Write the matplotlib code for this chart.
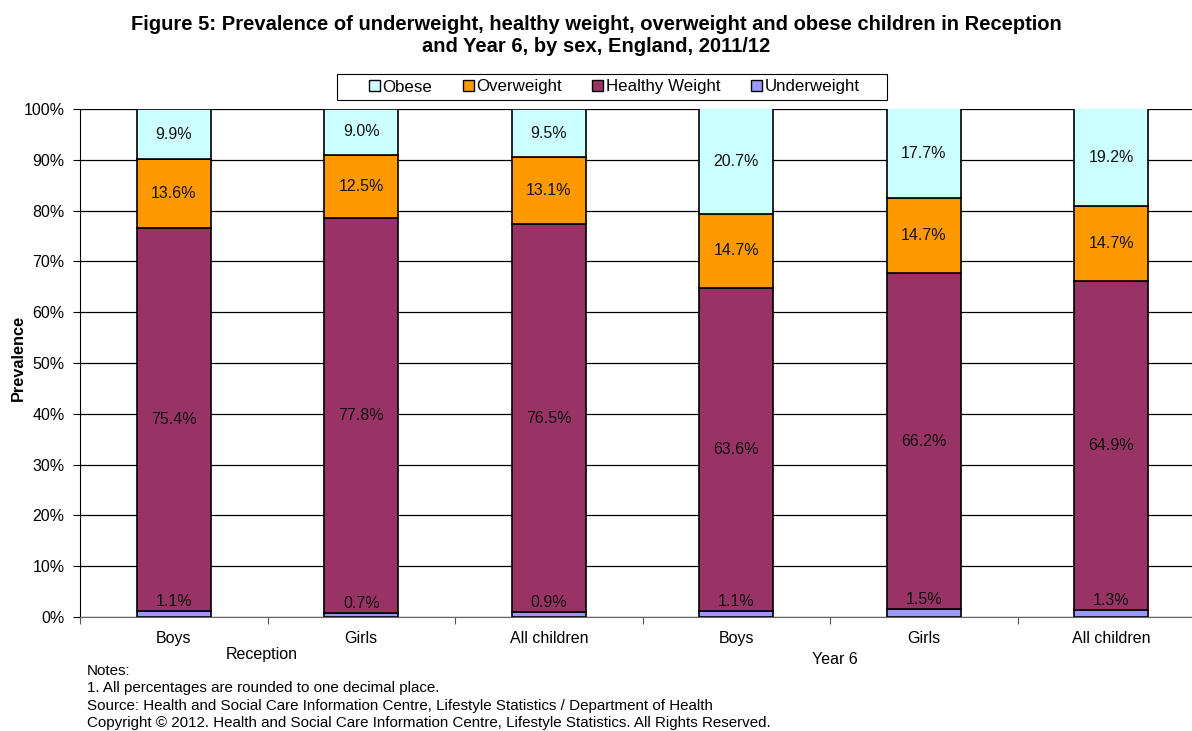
import matplotlib.pyplot as plt
from matplotlib.patches import Patch, Rectangle
from matplotlib.ticker import FuncFormatter

plt.rcParams['font.family'] = ['Liberation Sans', 'DejaVu Sans']

categories = ["Boys", "Girls", "All children", "Boys", "Girls", "All children"]
groups = ["Reception", "Year 6"]
underweight = [1.1, 0.7, 0.9, 1.1, 1.5, 1.3]
healthy = [75.4, 77.8, 76.5, 63.6, 66.2, 64.9]
overweight = [13.6, 12.5, 13.1, 14.7, 14.7, 14.7]
obese = [9.9, 9.0, 9.5, 20.7, 17.7, 19.2]

series = [
    ("Underweight", underweight, "#9999FF"),
    ("Healthy Weight", healthy, "#993366"),
    ("Overweight", overweight, "#FF9900"),
    ("Obese", obese, "#CCFFFF"),
]

W, H = 1192, 731


def main():
    fig = plt.figure(figsize=(W / 100, H / 100), dpi=100)
    ax = fig.add_axes([80 / W, 114 / H, 1125 / W, 508 / H])

    x = list(range(len(categories)))
    bottoms = [0.0] * len(categories)
    for name, vals, col in series:
        ax.bar(x, vals, 0.395, bottom=bottoms, color=col, edgecolor="black",
               linewidth=1.2, zorder=3)
        for i, v in enumerate(vals):
            if name == "Underweight":
                y = bottoms[i] + v + 2.0
            else:
                y = bottoms[i] + v / 2
            ax.text(i, y, "%.1f%%" % v, ha="center", va="center",
                    fontsize=11.5, color="#111111", zorder=4)
        bottoms = [b + v for b, v in zip(bottoms, vals)]

    ax.set_xlim(-0.5, 5.5)
    ax.set_ylim(0, 100)
    ax.set_yticks(range(0, 101, 10))
    ax.yaxis.set_major_formatter(FuncFormatter(lambda v, p: "%d%%" % v))
    ax.yaxis.grid(True, color="black", linewidth=0.9, zorder=0)
    ax.tick_params(axis="y", labelsize=11.5, length=5, direction="out", pad=6)

    # category ticks sit between bars, labels centred under them
    ax.set_xticks([i + 0.5 for i in range(-1, 6)])
    ax.set_xticklabels([])
    ax.tick_params(axis="x", length=5, direction="out", color="#555555")
    ax.set_xticks(x, minor=True)
    ax.set_xticklabels(categories, minor=True, fontsize=11.5)
    ax.tick_params(axis="x", which="minor", length=0, pad=10)

    for s in ["top", "right"]:
        ax.spines[s].set_visible(False)
    ax.spines["bottom"].set_color("#666666")
    ax.spines["left"].set_color("black")
    ax.axhline(100, color="#999999", linewidth=1.2, zorder=1)

    fig.text(18 / W, 1 - 358 / H, "Prevalence", rotation=90, ha="center", va="center",
             fontsize=11.8, fontweight="bold")

    fig.text(262 / W, 1 - 655 / H, groups[0], ha="center", va="center", fontsize=11.5)
    fig.text(835 / W, 1 - 659 / H, groups[1], ha="center", va="center", fontsize=11.5)

    fig.text(596 / W, 1 - 36 / H,
             "Figure 5: Prevalence of underweight, healthy weight, overweight and obese children in Reception\n"
             "and Year 6, by sex, England, 2011/12",
             ha="center", va="center", fontsize=14.5, fontweight="bold", linespacing=1.2)

    handles = [Patch(facecolor=c, edgecolor="black", linewidth=1.0, label=n)
               for n, v, c in reversed(series)]
    fig.legend(handles=handles, loc="center", bbox_to_anchor=(614 / W, 1 - 87 / H),
               ncol=4, fontsize=12.2, frameon=False,
               handlelength=0.65, handleheight=0.65, handletextpad=0.15,
               columnspacing=1.8, borderpad=0.3)
    fig.add_artist(Rectangle((337 / W, 1 - 100 / H), 550 / W, 26 / H,
                             transform=fig.transFigure, facecolor="none",
                             edgecolor="black", linewidth=0.8))

    notes = [
        "Notes:",
        "1. All percentages are rounded to one decimal place.",
        "Source: Health and Social Care Information Centre, Lifestyle Statistics / Department of Health",
        "Copyright \u00a9 2012. Health and Social Care Information Centre, Lifestyle Statistics. All Rights Reserved.",
    ]
    for k, line in enumerate(notes):
        fig.text(87 / W, 1 - (671 + 17.3 * k) / H, line, ha="left", va="center", fontsize=10.9)

    fig.savefig("out.png", dpi=100)


if __name__ == "__main__":
    main()
